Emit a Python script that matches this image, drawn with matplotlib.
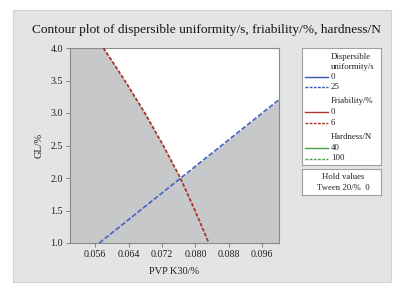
import matplotlib
matplotlib.use("Agg")
import matplotlib.pyplot as plt
from matplotlib.patches import Rectangle
import numpy as np

# contour lines
pvp_friab = [0.0580, 0.0631, 0.0679, 0.0723, 0.0764, 0.0799, 0.0832]
gl_friab = [4.0, 3.5, 3.0, 2.5, 2.0, 1.5, 1.0]
pvp_disp = [0.0570, 0.1000]
gl_disp = [1.0, 3.205]

x_ticks = [0.056, 0.064, 0.072, 0.080, 0.088, 0.096]
y_ticks = [1.0, 1.5, 2.0, 2.5, 3.0, 3.5, 4.0]

plt.rcParams['font.family'] = ['Liberation Serif', 'DejaVu Serif']

W, H = 400, 288
fig = plt.figure(figsize=(4, 2.88), dpi=100, facecolor="white")

def fbox(x0, y0, x1, y1):
    # pixel box -> figure fraction
    return [x0 / W, 1 - y1 / H, (x1 - x0) / W, (y1 - y0) / H]

# grey panel behind everything
fig.add_artist(Rectangle((13 / W, 1 - 282 / H), 378 / W, 272 / H,
                         transform=fig.transFigure, facecolor="#e4e4e4",
                         edgecolor="#d2d2d2", lw=0.8, zorder=-5))

fig.text(206 / W, 1 - 30 / H,
         "Contour plot of dispersible uniformity/s, friability/%, hardness/N",
         ha="center", va="center", fontsize=9.6, color="#151515")

ax = fig.add_axes(fbox(70, 48, 279, 243))
ax.set_facecolor("#c7c8ca")
ax.set_xlim(0.05, 0.1)
ax.set_ylim(1.0, 4.0)

# white feasible region
yy = np.linspace(1.0, 4.0, 400)
left = np.interp(yy, gl_friab[::-1], pvp_friab[::-1])
right = np.minimum(np.interp(yy, gl_disp, pvp_disp), 0.1)
ax.fill_betweenx(yy, left, right, where=right > left, color="white", lw=0, zorder=1)

ax.plot(pvp_friab, gl_friab, color="#a8352a", lw=1.3, ls=(0, (2, 1)), zorder=3)
ax.plot(pvp_disp, gl_disp, color="#4563c0", lw=1.2, ls=(0, (3, 1.2)), zorder=3)

ax.set_xticks(x_ticks)
ax.set_xticklabels([f"{v:.3f}" for v in x_ticks])
ax.set_yticks(y_ticks)
ax.set_yticklabels([f"{v:.1f}" for v in y_ticks])
ax.tick_params(length=3, width=0.7, color="#808080", labelsize=7.2, labelcolor="#202020", pad=2)
for s in ax.spines.values():
    s.set_color("#8a8a8a")
    s.set_linewidth(0.8)
ax.set_xlabel("PVP K30/%", fontsize=7.5, color="#202020", labelpad=6)
ax.set_ylabel("GL/%", fontsize=7.5, color="#202020", labelpad=5)

# legend box drawn in pixel coordinates
lg = fig.add_axes(fbox(302, 48, 381, 165))
lg.set_xlim(302, 381)
lg.set_ylim(165, 48)
lg.set_xticks([])
lg.set_yticks([])
lg.set_facecolor("white")
for s in lg.spines.values():
    s.set_color("#a0a0a0")
    s.set_linewidth(0.8)

rows = [(56.7, "Dispersible", None, None), (66.7, "uniformity/s", None, None),
        (77.3, "0", "#3a56b8", "-"), (87.3, "25", "#3a56b8", "--"),
        (101.3, "Friability/%", None, None),
        (112, "0", "#b0352a", "-"), (123, "6", "#b0352a", "--"),
        (137.3, "Hardness/N", None, None),
        (148, "40", "#45a045", "-"), (158.5, "100", "#45a045", "--")]
for y, txt, col, style in rows:
    lg.text(331, y, txt, fontsize=6.3, va="center", ha="left", color="#202020")
    if col is not None:
        ls = "-" if style == "-" else (0, (2, 1))
        lg.plot([305, 328], [y, y], color=col, lw=1.0, ls=ls)

hv = fig.add_axes(fbox(302, 169, 381, 195))
hv.set_xlim(302, 381)
hv.set_ylim(195, 169)
hv.set_xticks([])
hv.set_yticks([])
hv.set_facecolor("white")
for s in hv.spines.values():
    s.set_color("#a0a0a0")
    s.set_linewidth(0.8)
hv.text(343, 177.3, "Hold values", fontsize=6.3, ha="center", va="center", color="#202020")
hv.text(343, 188, "Tween 20/%  0", fontsize=6.3, ha="center", va="center", color="#202020")

fig.savefig("out.png", dpi=100, facecolor="white")
